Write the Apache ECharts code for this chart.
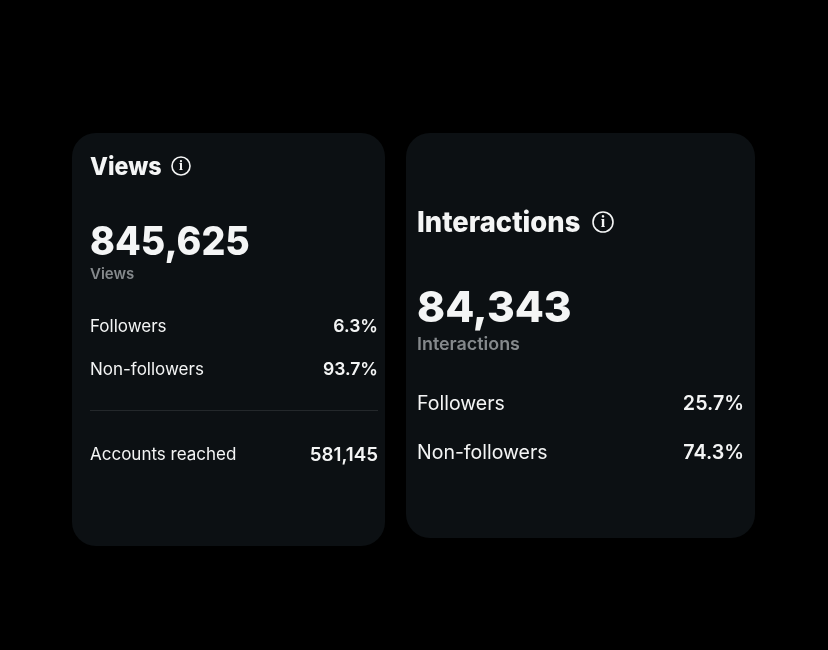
<!DOCTYPE html>
<html>
<head>
<meta charset="utf-8">
<style>
html, body { margin: 0; padding: 0; background: #000; }
#chart { width: 828px; height: 650px; }
</style>
<script src="https://cdn.jsdelivr.net/npm/echarts@6/dist/echarts.min.js"></script>
</head>
<body>
<div id="chart"></div>
<script>
const card_titles = ["Views", "Interactions"];
const card_totals = ["845,625", "84,343"];
const row_labels = ["Followers", "Non-followers"];
const views_shares = ["6.3%", "93.7%"];
const interaction_shares = ["25.7%", "74.3%"];
const reached_label = "Accounts reached";
const reached_value = "581,145";

const FONT = "Inter, 'Liberation Sans', sans-serif";
const CARD = "#0c1013";
const WHITE = "#f4f5f5";
const GREY = "#85898c";

// sx squeezes the run a little, the source font is narrower than Inter
function text(x, y, str, size, weight, color, align, sx) {
    return {
        type: "text",
        x: x,
        y: y,
        scaleX: sx || 1,
        style: {
            text: str,
            fontFamily: FONT,
            fontSize: size,
            fontWeight: weight,
            fill: color,
            align: align || "left",
            verticalAlign: "middle",
        },
    };
}

function card(x, y, w, h) {
    return {
        type: "rect",
        shape: { x: x, y: y, width: w, height: h, r: 24 },
        style: { fill: CARD },
    };
}

// info glyph next to the card title
function info_icon(cx, cy, r, size) {
    const dot = text(cx, cy + 0.5, "i", size, 700, WHITE, "center");
    dot.style.fontFamily = "'Liberation Serif', serif";
    return [
        {
            type: "circle",
            shape: { cx: cx, cy: cy, r: r },
            style: { fill: "none", stroke: WHITE, lineWidth: 1.6 },
        },
        dot,
    ];
}

const elements = [
    card(72, 133, 313, 413),
    card(406, 133, 349, 405),

    // views card
    text(90, 167, card_titles[0], 25, 800, WHITE, "left", 0.93),
    ...info_icon(181, 166, 9, 14),
    text(90, 243, card_totals[0], 39, 800, WHITE, "left", 0.963),
    text(90, 274, card_titles[0], 15, 600, GREY),
    text(90, 327, row_labels[0], 17, 400, WHITE),
    text(378, 327, views_shares[0], 17.6, 600, WHITE, "right"),
    text(90, 370, row_labels[1], 17, 400, WHITE),
    text(378, 370, views_shares[1], 17.6, 600, WHITE, "right"),
    {
        type: "line",
        shape: { x1: 90, y1: 410.5, x2: 378, y2: 410.5 },
        style: { stroke: "#24282b", lineWidth: 1 },
    },
    text(90, 455, reached_label, 17, 400, WHITE),
    text(378, 455, reached_value, 18.8, 600, WHITE, "right"),

    // interactions card
    text(417, 223.5, card_titles[1], 28, 800, WHITE, "left", 0.977),
    ...info_icon(603, 222, 10, 16),
    text(417, 309, card_totals[1], 43, 800, WHITE, "left", 0.985),
    text(417, 344.5, card_titles[1], 17.9, 600, GREY),
    text(417, 404, row_labels[0], 19.5, 400, WHITE),
    text(744, 404, interaction_shares[0], 19.7, 600, WHITE, "right"),
    text(417, 453, row_labels[1], 19.5, 400, WHITE),
    text(744, 453, interaction_shares[1], 19.7, 600, WHITE, "right"),
];

const chart = echarts.init(document.getElementById("chart"), null, { renderer: "canvas" });
chart.setOption({
    backgroundColor: "#000000",
    animation: false,
    graphic: { elements: elements },
});
</script>
</body>
</html>
